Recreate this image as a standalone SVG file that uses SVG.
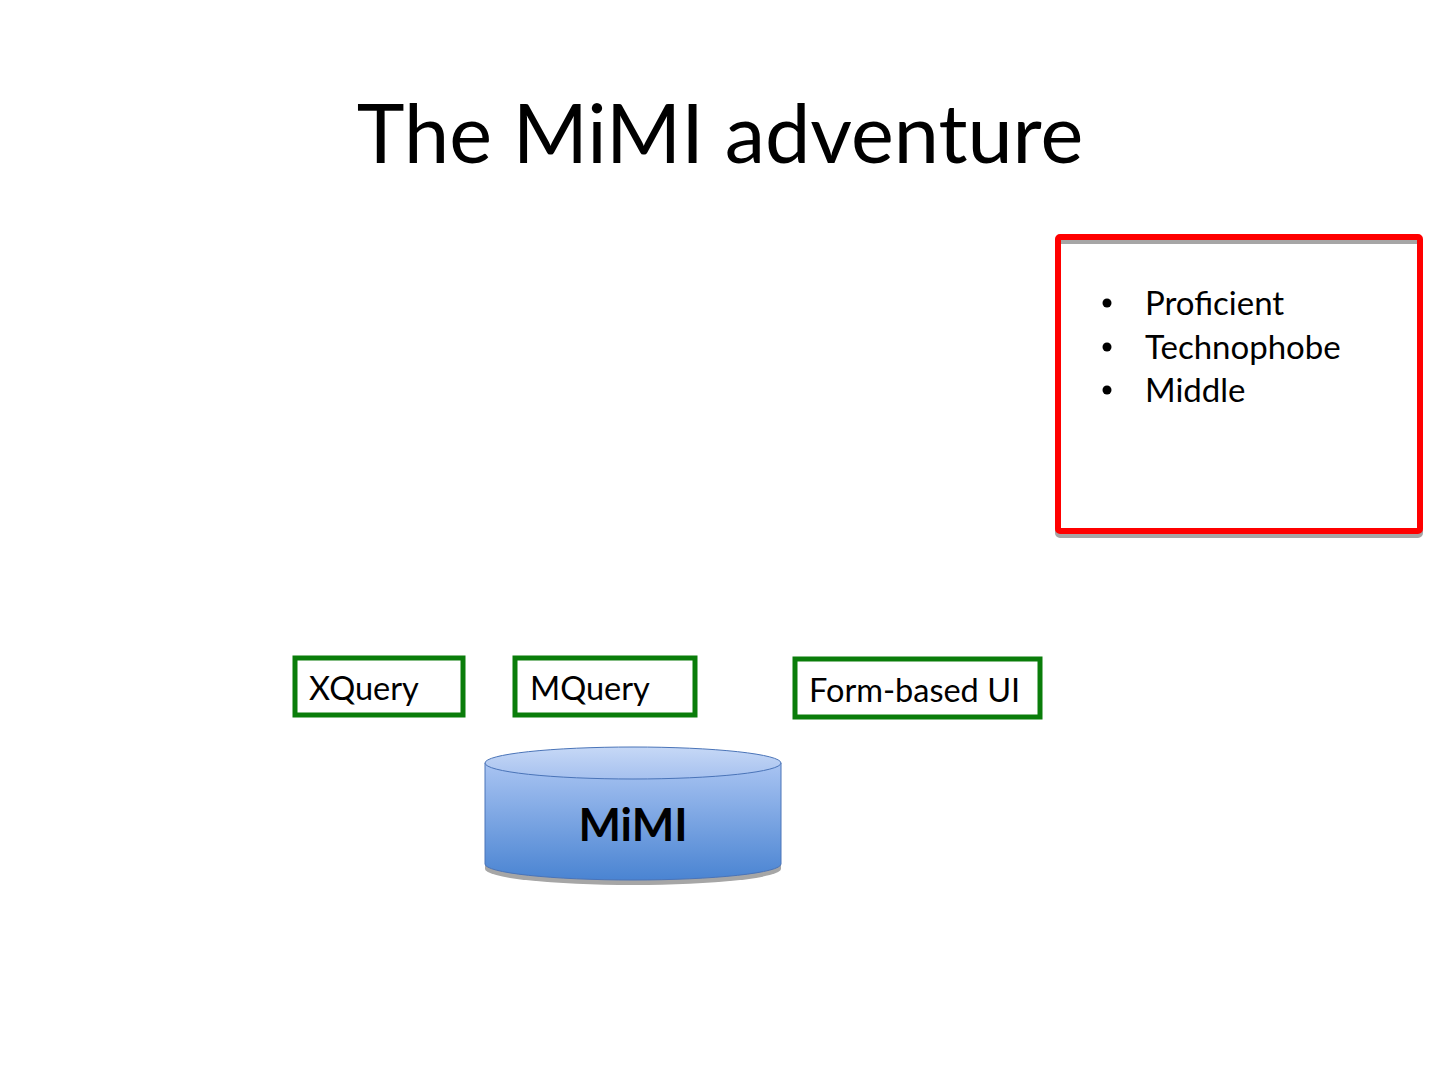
<svg xmlns="http://www.w3.org/2000/svg" width="1440" height="1080" viewBox="0 0 1440 1080">
<style>
text{font-family:Lato,"Liberation Sans",sans-serif;fill:#000}
.g{fill:#fff;stroke:#0a7d0a;stroke-width:5}
.l{font-size:32.5px}
.b{font-size:33px}
</style>
<defs>
<linearGradient id="cyl" x1="0" y1="0" x2="0" y2="1">
<stop offset="0" stop-color="#a9c4f2"/>
<stop offset="1" stop-color="#4a84d2"/>
</linearGradient>
<linearGradient id="top" x1="0" y1="0" x2="0" y2="1">
<stop offset="0" stop-color="#c6d8f6"/>
<stop offset="1" stop-color="#a6c1ef"/>
</linearGradient>
</defs>
<rect width="1440" height="1080" fill="#fff"/>
<text x="720" y="163" font-size="81" text-anchor="middle">The MiMI adventure</text>
<g id="users">
<rect x="1058" y="241" width="362" height="294" fill="none" stroke="#a6a6a6" stroke-width="6" rx="2"/>
<rect x="1058" y="237" width="362" height="294" fill="none" stroke="#ff0000" stroke-width="6" rx="2"/>
<circle cx="1107" cy="303" r="4.5"/>
<circle cx="1107" cy="347" r="4.5"/>
<circle cx="1107" cy="390" r="4.5"/>
<text class="b" x="1145" y="315">Proficient</text>
<text class="b" x="1145" y="359">Technophobe</text>
<text class="b" x="1145" y="402">Middle</text>
</g>
<g id="xquery">
<rect class="g" x="295" y="658" width="168" height="57"/>
<text class="l" x="309" y="700">XQuery</text>
</g>
<g id="mquery">
<rect class="g" x="515" y="658" width="180" height="57"/>
<text class="l" x="530" y="700">MQuery</text>
</g>
<g id="form">
<rect class="g" x="795" y="659" width="245" height="58"/>
<text class="l" x="809" y="702">Form-based UI</text>
</g>
<g id="mimi">
<path d="M485 767 V866 A148 16 0 0 0 781 866 V767 Z" fill="#a6a6a6" transform="translate(0,3)"/>
<path d="M485 763 V864 A148 16 0 0 0 781 864 V763 Z" fill="url(#cyl)" stroke="#4a74b8" stroke-width="1"/>
<ellipse cx="633" cy="763" rx="148" ry="16" fill="url(#top)" stroke="#4a74b8" stroke-width="1"/>
<text x="633" y="841" font-size="45" font-weight="bold" text-anchor="middle">MiMI</text>
</g>
<g id="connectors"/>
</svg>
